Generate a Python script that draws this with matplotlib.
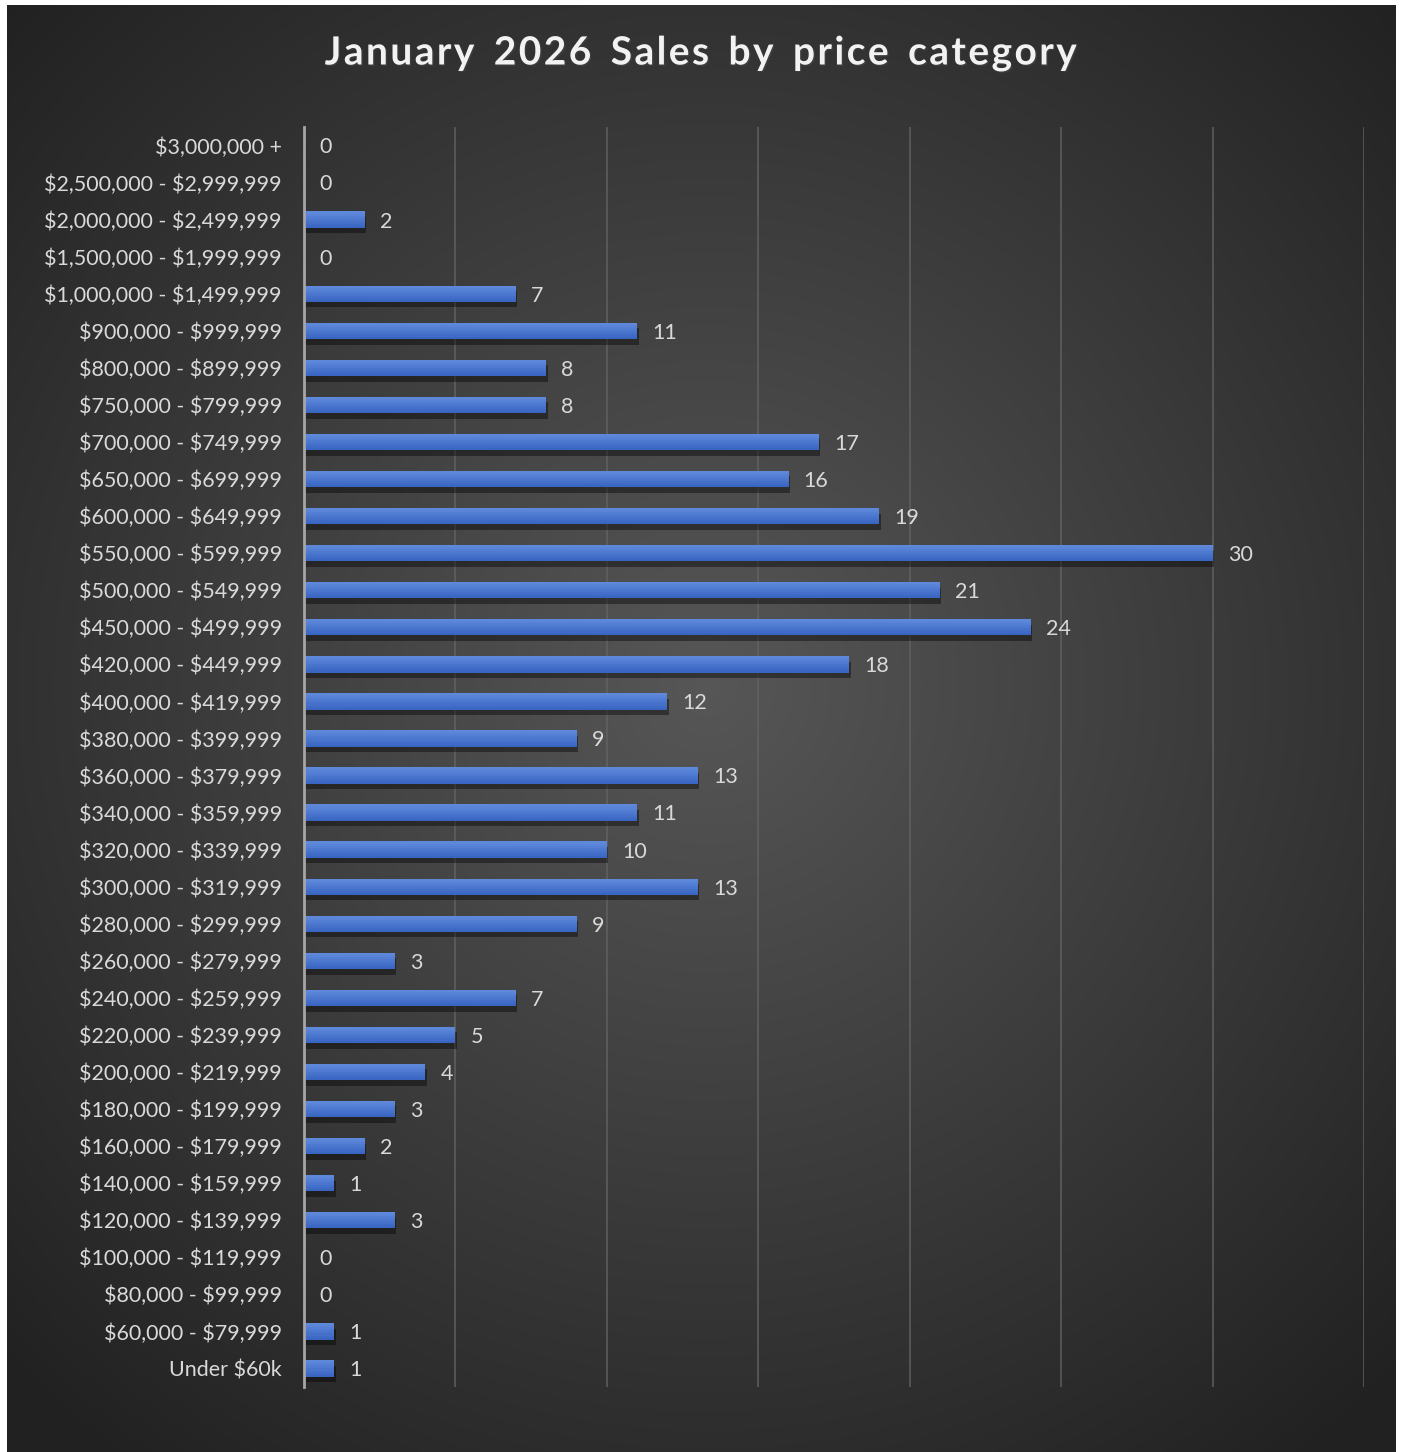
import numpy as np
import matplotlib
matplotlib.use('Agg')
import matplotlib.pyplot as plt
import matplotlib.patheffects as pe

categories = [
    "Under $60k", "$60,000 - $79,999", "$80,000 - $99,999", "$100,000 - $119,999",
    "$120,000 - $139,999", "$140,000 - $159,999", "$160,000 - $179,999",
    "$180,000 - $199,999", "$200,000 - $219,999", "$220,000 - $239,999",
    "$240,000 - $259,999", "$260,000 - $279,999", "$280,000 - $299,999",
    "$300,000 - $319,999", "$320,000 - $339,999", "$340,000 - $359,999",
    "$360,000 - $379,999", "$380,000 - $399,999", "$400,000 - $419,999",
    "$420,000 - $449,999", "$450,000 - $499,999", "$500,000 - $549,999",
    "$550,000 - $599,999", "$600,000 - $649,999", "$650,000 - $699,999",
    "$700,000 - $749,999", "$750,000 - $799,999", "$800,000 - $899,999",
    "$900,000 - $999,999", "$1,000,000 - $1,499,999", "$1,500,000 - $1,999,999",
    "$2,000,000 - $2,499,999", "$2,500,000 - $2,999,999", "$3,000,000 +",
]
sales = [1, 1, 0, 0, 3, 1, 2, 3, 4, 5, 7, 3, 9, 13, 10, 11, 13, 9, 12, 18,
         24, 21, 30, 19, 16, 17, 8, 8, 11, 7, 0, 2, 0, 0]
x_ticks = [0, 5, 10, 15, 20, 25, 30, 35]

plt.rcParams['font.family'] = ['Lato', 'DejaVu Sans']
plt.rcParams['text.parse_math'] = False

W, H = 1401, 1452
fig = plt.figure(figsize=(W / 100, H / 100), dpi=100)
fig.patch.set_facecolor('white')

# radial gradient background inside the white frame
bg = fig.add_axes([7 / W, 0, (1396 - 7) / W, 1 - 5 / H])
yy, xx = np.mgrid[0:1447, 0:1389]
r = np.sqrt((xx - 700) ** 2 + (yy - 680) ** 2) / 980.0
shade = 0.34 - 0.21 * np.clip(r, 0, 1)
img = np.dstack([shade, shade, shade])
bg.imshow(img, aspect='auto', extent=[0, 1, 0, 1], interpolation='bilinear')
bg.set_axis_off()

ax = fig.add_axes([304 / W, 1 - 1387 / H, (1364 - 304) / W, (1387 - 127) / H])
ax.set_facecolor('none')

y = np.arange(len(categories))
bar_h = 0.44
# base bar with soft shadow
ax.barh(y, sales, height=bar_h, color='#3a66c3', zorder=3, linewidth=0,
        path_effects=[pe.SimplePatchShadow(offset=(1, -4), alpha=0.4, shadow_rgbFace='black'),
                      pe.Normal()])
# vertical gradient: light on top, darker bottom
top = np.array([0x5e, 0x89, 0xdb]) / 255
bot = np.array([0x3a, 0x66, 0xc3]) / 255
n = 8
for i in range(n):
    t = i / (n - 1)
    c = bot * (1 - t) + top * t
    h = bar_h / n
    ax.barh(y - bar_h / 2 + h * (i + 0.5), sales, height=h * 1.02, color=c,
            zorder=4, linewidth=0)

for yi, v in zip(y, sales):
    ax.text(v + 0.5, yi - 0.05, str(v), va='center', ha='left', fontsize=15.5,
            color='#d9d9d9', zorder=5)

ax.set_xlim(0, 35)
ax.set_ylim(-0.5, len(categories) - 0.5)
ax.set_xticks(x_ticks)
ax.set_xticklabels([])
ax.set_yticks(y)
ax.set_yticklabels(categories, fontsize=15.5, color='#d9d9d9')
ax.tick_params(axis='both', length=0)
ax.tick_params(axis='y', pad=16)
ax.grid(axis='x', color='#636363', linewidth=1.2, alpha=0.85, zorder=0)
for s in ['top', 'right', 'bottom']:
    ax.spines[s].set_visible(False)
ax.spines['left'].set_color('#a6a6a6')
ax.spines['left'].set_linewidth(2)
ax.spines['left'].set_zorder(6)

title = "January 2026 Sales by price category"
spaced = '\u2002'.join(' '.join(w) for w in title.split(' '))
spaced = spaced.replace(' ', '\u200a')
fig.text(700 / W, 1 - 53 / H, spaced,
         ha='center', va='center', fontsize=28, fontweight='bold', color='#f2f2f2',
         path_effects=[pe.withSimplePatchShadow(offset=(1, -1), alpha=0.5)])

fig.savefig('out.png', dpi=100, facecolor=fig.get_facecolor())
